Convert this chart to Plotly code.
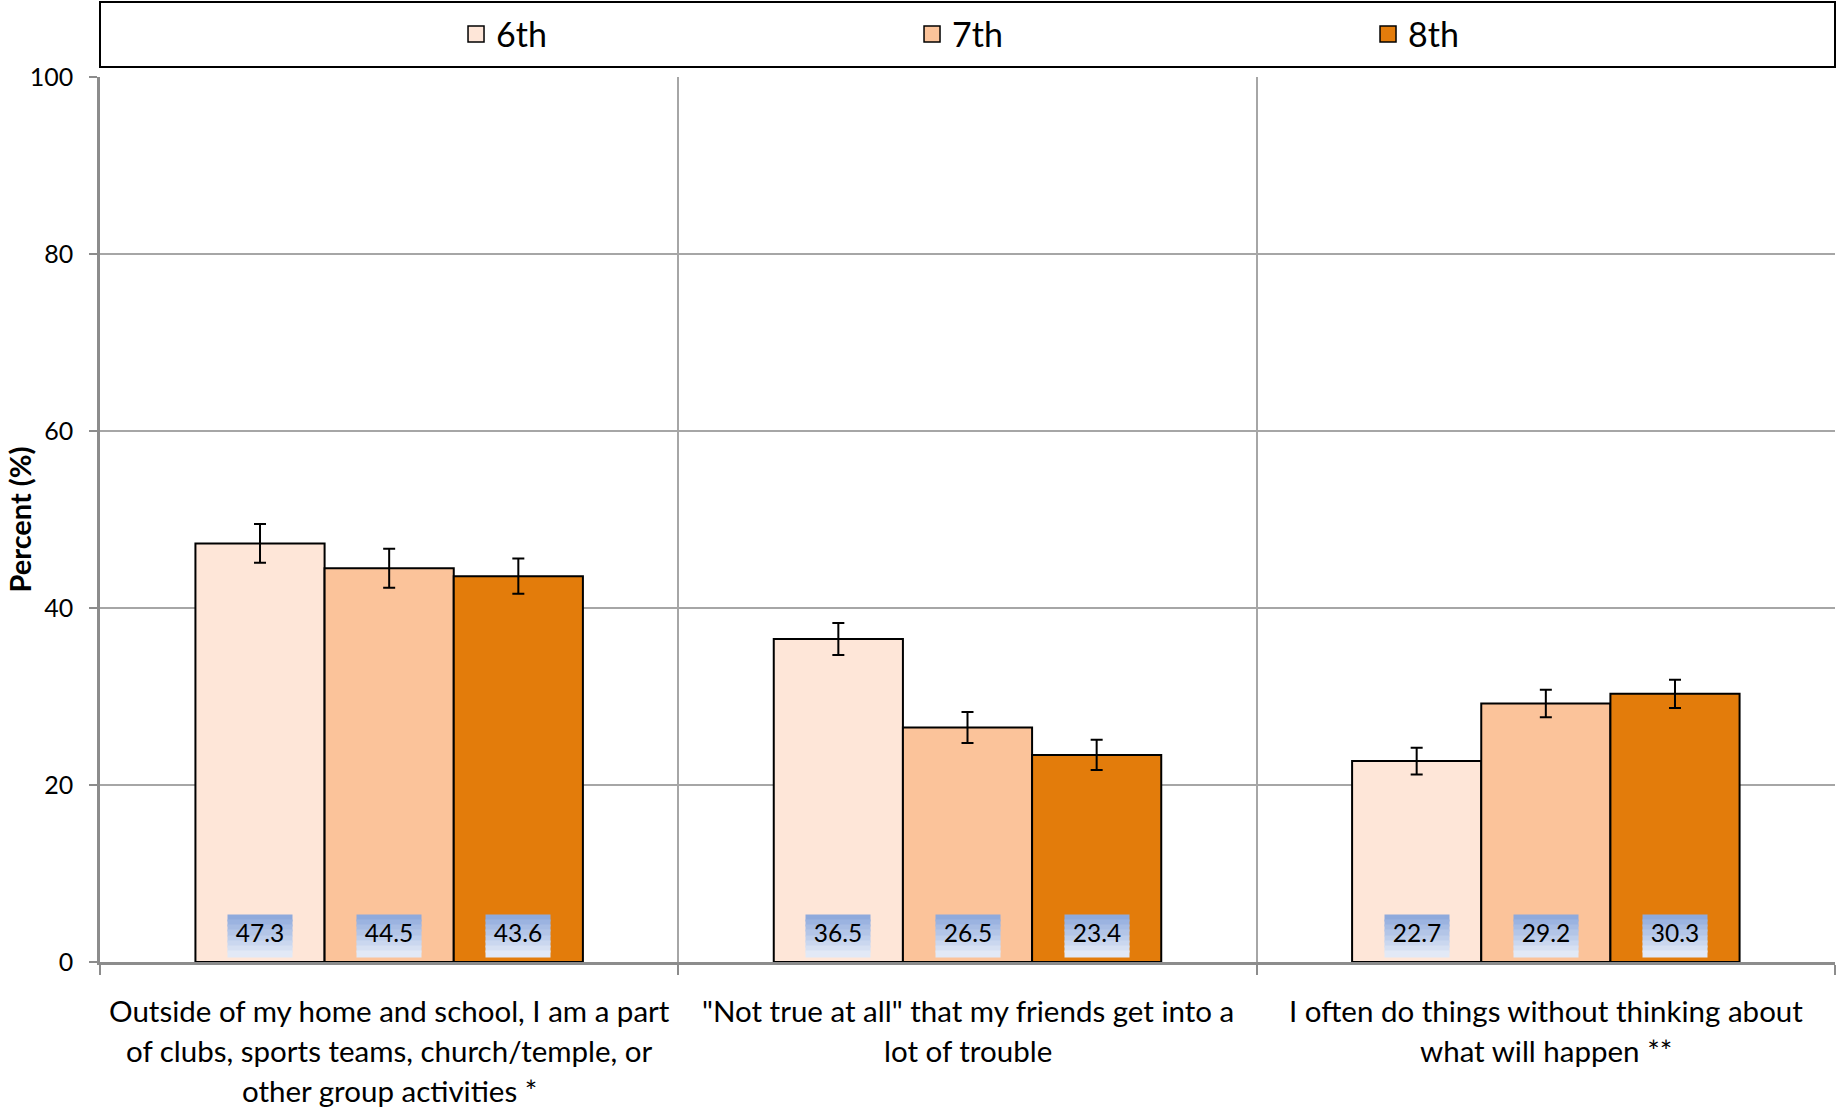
import plotly.graph_objects as go

categories = [
    ["Outside of my home and school, I am a part", "of clubs, sports teams, church/temple, or", "other group activities *"],
    ["\"Not true at all\" that my friends get into a", "lot of trouble"],
    ["I often do things without thinking about", "what will happen **"],
]
series_names = ["6th", "7th", "8th"]
values = {
    "6th": [47.3, 36.5, 22.7],
    "7th": [44.5, 26.5, 29.2],
    "8th": [43.6, 23.4, 30.3],
}
errors = {
    "6th": [2.2, 1.8, 1.5],
    "7th": [2.2, 1.75, 1.55],
    "8th": [2.0, 1.7, 1.6],
}
colors = {"6th": "#FEE6D8", "7th": "#FBC39A", "8th": "#E37C0B"}
y_ticks = [0, 20, 40, 60, 80, 100]

FONT = "Lato"
GRID = "#A6A6A6"
AXIS = "#8C8C8C"
bargap = 0.33
bar_w = (1 - bargap) / len(series_names)
xpos = list(range(len(categories)))

fig = go.Figure()
for name in series_names:
    fig.add_trace(go.Bar(
        x=xpos, y=values[name], name=name, showlegend=False,
        marker=dict(color=colors[name], line=dict(color="black", width=2)),
        error_y=dict(type="data", array=errors[name], color="black", thickness=2, width=6),
    ))
    fig.add_trace(go.Scatter(
        x=[None], y=[None], mode="markers", name=name,
        marker=dict(symbol="square", size=16, color=colors[name], line=dict(color="black", width=1.5)),
    ))

annotations = []
# value label boxes with vertical gradient
grad_top = (143, 170, 220)
grad_bot = (226, 233, 246)
nb = 8
box_h = 41
box_w = 64
for j, name in enumerate(series_names):
    for i, v in enumerate(values[name]):
        xc = i + (j - 1) * bar_w
        for b in range(nb):
            t = b / (nb - 1)
            c = tuple(int(round(grad_top[k] + (grad_bot[k] - grad_top[k]) * t)) for k in range(3))
            bh = box_h / nb
            annotations.append(dict(
                x=xc, y=0, xref="x", yref="y", text="", showarrow=False,
                width=box_w, height=bh + 1, bgcolor="rgb(%d,%d,%d)" % c,
                yanchor="top", yshift=7 + box_h - b * bh, borderpad=0,
            ))
        annotations.append(dict(
            x=xc, y=0, xref="x", yref="y", text=f"{v:.1f}", showarrow=False,
            width=box_w, height=box_h, yanchor="bottom", yshift=7,
            font=dict(family=FONT, size=24.5, color="black"),
        ))

# category labels
for i, lines in enumerate(categories):
    for k, line in enumerate(lines):
        annotations.append(dict(
            x=i, y=0, xref="x", yref="y", text=line, showarrow=False,
            yanchor="middle", yshift=-48 - 40 * k,
            font=dict(family=FONT, size=29.5, color="black"),
        ))

# y title
annotations.append(dict(
    x=0, y=0.5, xref="paper", yref="paper", text="<b>Percent (%)</b>", textangle=-90,
    xanchor="center", yanchor="middle",
    showarrow=False, xshift=-81, font=dict(family=FONT, size=29, color="black"),
))

fig.update_layout(
    width=1839, height=1110,
    margin=dict(l=100, r=4, t=77, b=148, autoexpand=False),
    paper_bgcolor="white", plot_bgcolor="white",
    barmode="group", bargap=bargap, bargroupgap=0,
    annotations=annotations,
    showlegend=True,
    legend=dict(
        orientation="h", x=0.2052, xanchor="left", y=1.048, yanchor="middle",
        entrywidth=411, entrywidthmode="pixels",
        font=dict(family=FONT, size=34, color="black"),
        bgcolor="rgba(0,0,0,0)", itemclick=False,
    ),
    shapes=[dict(
        type="rect", xref="paper", yref="paper", x0=0, x1=1, y0=1.0113, y1=1.0847,
        line=dict(color="black", width=2), fillcolor="rgba(0,0,0,0)",
    )],
    font=dict(family=FONT),
)
fig.update_xaxes(
    range=[-0.5, 2.5], tickvals=[-0.5, 0.5, 1.5, 2.5], showticklabels=False,
    showgrid=True, gridcolor=GRID, gridwidth=1.5,
    showline=True, linecolor=AXIS, linewidth=2.5,
    ticks="outside", ticklen=10, tickcolor=AXIS, tickwidth=1.5, zeroline=False,
)
fig.update_yaxes(
    range=[0, 100], tickvals=y_ticks, showgrid=True, gridcolor=GRID, gridwidth=1.5,
    showline=True, linecolor=AXIS, linewidth=2.5,
    ticks="outside", ticklen=8, tickcolor=AXIS, tickwidth=1.5, zeroline=False,
    ticklabelstandoff=11, tickfont=dict(family=FONT, size=25, color="black"),
)

fig.write_html(
    "out.html",
    config={"displayModeBar": False},
    post_script="document.body.style.margin='0';document.body.style.overflow='hidden';",
)
